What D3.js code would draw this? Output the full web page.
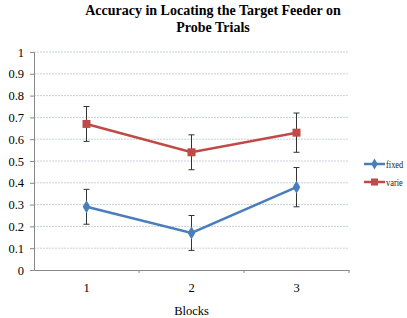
<!DOCTYPE html>
<html><head><meta charset="utf-8">
<script src="https://cdn.jsdelivr.net/npm/d3@7"></script>
<style>body{margin:0;background:#fff}svg{display:block}text{font-family:"Liberation Serif","Times New Roman",serif}</style>
</head><body><svg id="c" width="407" height="318"></svg>
<script>
const blocks = ["1","2","3"];
const fixedVals = [0.29, 0.17, 0.38];
const fixedErr = [0.08, 0.08, 0.09];
const varieVals = [0.67, 0.54, 0.63];
const varieErr = [0.08, 0.08, 0.09];
const yTicks = [0,0.1,0.2,0.3,0.4,0.5,0.6,0.7,0.8,0.9,1];
const seriesNames = ["fixed","varie"];

const svg = d3.select("#c");
const L=34, R=349, T=52, B=270;
const x = d3.scaleBand().domain(blocks).range([L,R]);
const y = d3.scaleLinear().domain([0,1]).range([B,T]);

// gridlines
svg.append("g").selectAll("line").data(yTicks.filter(d=>d>0)).join("line")
  .attr("x1",L).attr("x2",R).attr("y1",d=>y(d)).attr("y2",d=>y(d))
  .attr("stroke","#c8cfdc").attr("stroke-width",1).attr("stroke-dasharray","2,1");

// y axis
const ya = svg.append("g").attr("transform",`translate(${L},0)`)
  .call(d3.axisLeft(y).tickValues(yTicks).tickFormat(d3.format("")).tickSize(4).tickPadding(6));
ya.select(".domain").attr("stroke","#888");
ya.selectAll(".tick line").attr("stroke","#888");
ya.selectAll("text").attr("font-size",12.5).attr("fill","#000").attr("font-family","Liberation Serif");

// x axis
const xa = svg.append("g").attr("transform",`translate(0,${B})`)
  .call(d3.axisBottom(x).tickSize(0).tickPadding(13));
xa.select(".domain").attr("stroke","#888");
xa.selectAll("text").attr("font-size",12.5).attr("fill","#000").attr("font-family","Liberation Serif");
xa.selectAll("line.bt").data(blocks.slice(1).concat(["end"])).join("line")
  .attr("x1",(d,i)=>L+x.bandwidth()*(i+1)).attr("x2",(d,i)=>L+x.bandwidth()*(i+1))
  .attr("y1",0).attr("y2",3).attr("stroke","#888");

const cx = d=>x(d)+x.bandwidth()/2;
const series = [
  {name:seriesNames[0], vals:fixedVals, err:fixedErr, color:"#4a7ebb", marker:"diamond"},
  {name:seriesNames[1], vals:varieVals, err:varieErr, color:"#be4b48", marker:"square"}
];
const line = d3.line().x((d,i)=>cx(blocks[i])).y(d=>y(d));
series.forEach(s=>{
  const g = svg.append("g");
  g.append("path").datum(s.vals).attr("d",line).attr("fill","none")
    .attr("stroke",s.color).attr("stroke-width",2.5);
  s.vals.forEach((v,i)=>{
    const xx = cx(blocks[i]);
    g.append("line").attr("x1",xx).attr("x2",xx).attr("y1",y(v+s.err[i])).attr("y2",y(v-s.err[i])).attr("stroke","#333").attr("stroke-width",1);
    [v+s.err[i], v-s.err[i]].forEach(e=>g.append("line").attr("x1",xx-3).attr("x2",xx+3).attr("y1",y(e)).attr("y2",y(e)).attr("stroke","#333").attr("stroke-width",1));
  });
  const sym = s.marker==="square"? d3.symbol(d3.symbolSquare,64) : d3.symbol(d3.symbolDiamond,50);
  g.selectAll("path.m").data(s.vals).join("path").attr("class","m")
    .attr("d",sym).attr("transform",(d,i)=>`translate(${cx(blocks[i])},${y(d)})`)
    .attr("fill",s.color);
});

// legend
series.forEach((s,i)=>{
  const ly = 164 + i*18;
  svg.append("line").attr("x1",364).attr("x2",385).attr("y1",ly).attr("y2",ly).attr("stroke",s.color).attr("stroke-width",2.5);
  const sym = s.marker==="square"? d3.symbol(d3.symbolSquare,50) : d3.symbol(d3.symbolDiamond,36);
  svg.append("path").attr("d",sym).attr("transform",`translate(374.5,${ly})`).attr("fill",s.color);
  svg.append("text").attr("transform",`translate(386,${ly+4}) scale(0.8,1)`).attr("font-size",10.5)
    .attr("font-family","Liberation Sans, Arial, sans-serif").attr("fill","#222").text(s.name);
});

// title
svg.append("text").attr("x",213).attr("y",15).attr("text-anchor","middle").attr("font-size",14).attr("font-weight","bold").text("Accuracy in Locating the Target Feeder on");
svg.append("text").attr("x",213).attr("y",32).attr("text-anchor","middle").attr("font-size",14).attr("font-weight","bold").text("Probe Trials");
svg.append("text").attr("x",191.5).attr("y",315).attr("text-anchor","middle").attr("font-size",12.5).text("Blocks");
</script></body></html>
